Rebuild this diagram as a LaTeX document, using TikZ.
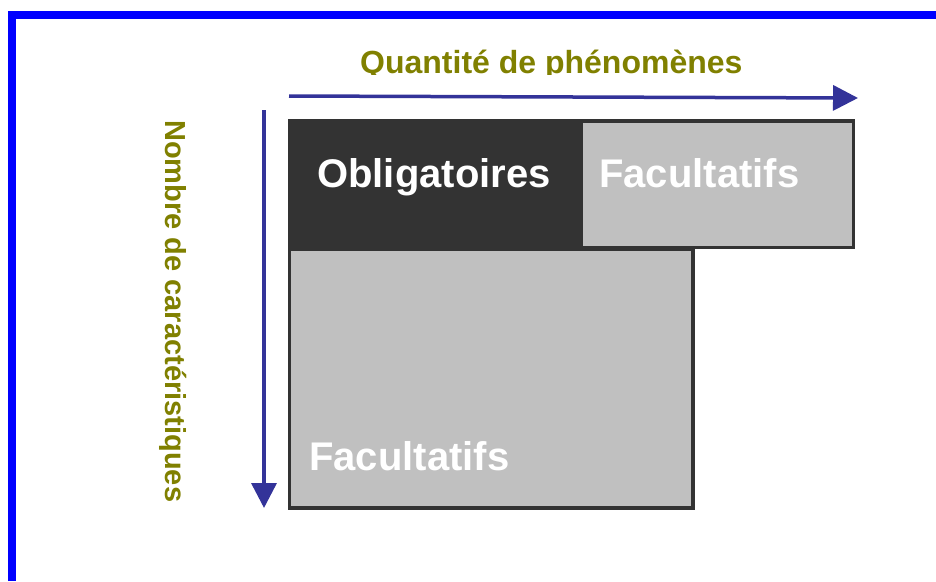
\documentclass[tikz,border=0pt]{standalone}
\usepackage{fontspec}
\setmainfont{Liberation Sans}
\usetikzlibrary{arrows.meta, positioning}
\definecolor{frameblue}{HTML}{0000FF}
\definecolor{axisblue}{HTML}{333399}
\definecolor{olivetext}{HTML}{808000}
\definecolor{darkfill}{HTML}{333333}
\definecolor{lightfill}{HTML}{C0C0C0}

\begin{document}
\begin{tikzpicture}[x=1pt, y=-1pt,
  >={Triangle[length=25pt, width=25pt]},
  area/.style={rectangle, anchor=north west, inner sep=0pt, outer sep=0pt},
  facbox/.style={area, fill=lightfill, draw=darkfill, line width=3.5pt},
  boxtext/.style={anchor=base west, inner sep=0pt, text=white,
                  font=\fontsize{40}{48}\selectfont\bfseries},
  axistext/.style={anchor=base west, inner sep=0pt, text=olivetext,
                   font=\fontsize{32}{38}\selectfont\bfseries},
  axisarrow/.style={->, draw=axisblue, fill=axisblue, line width=3.5pt}]
  \useasboundingbox (0,0) rectangle (936,581);
  \draw[frameblue, line width=8pt] (12,581) -- (12,14.5) -- (936,14.5);

  % boxes
  \node[area, fill=darkfill, minimum width=293pt, minimum height=130pt] (oblig) at (288,119) {};
  \node[facbox, minimum width=272pt, minimum height=126.5pt] (factop) at (581.5,121) {};
  \node[facbox, minimum width=403.5pt, minimum height=259pt] (facbot) at (289.5,249) {};

  \node[boxtext] (obligtxt) at (317,187) {Obligatoires};
  \node[boxtext] (factoptxt) at (599,187) {Facultatifs};
  \node[boxtext] (facbottxt) at (309,470) {Facultatifs};

  % axes
  \coordinate (hstart) at (289,96);
  \coordinate (hend) at (858,98);
  \coordinate (vstart) at (264,110);
  \coordinate (vend) at (264,508);
  \draw[axisarrow] (hstart) -- (hend);
  \draw[axisarrow] (vstart) -- (vend);

  \begin{scope}
    \clip (0,0) rectangle (936,74);
    \node[axistext] (qtitle) at (360,73) {Quantité de phénomènes};
  \end{scope}
  \node[axistext, font=\fontsize{29}{35}\selectfont\bfseries, rotate=-90] (ntitle) at (165,120) {Nombre de caractéristiques};
\end{tikzpicture}
\end{document}
